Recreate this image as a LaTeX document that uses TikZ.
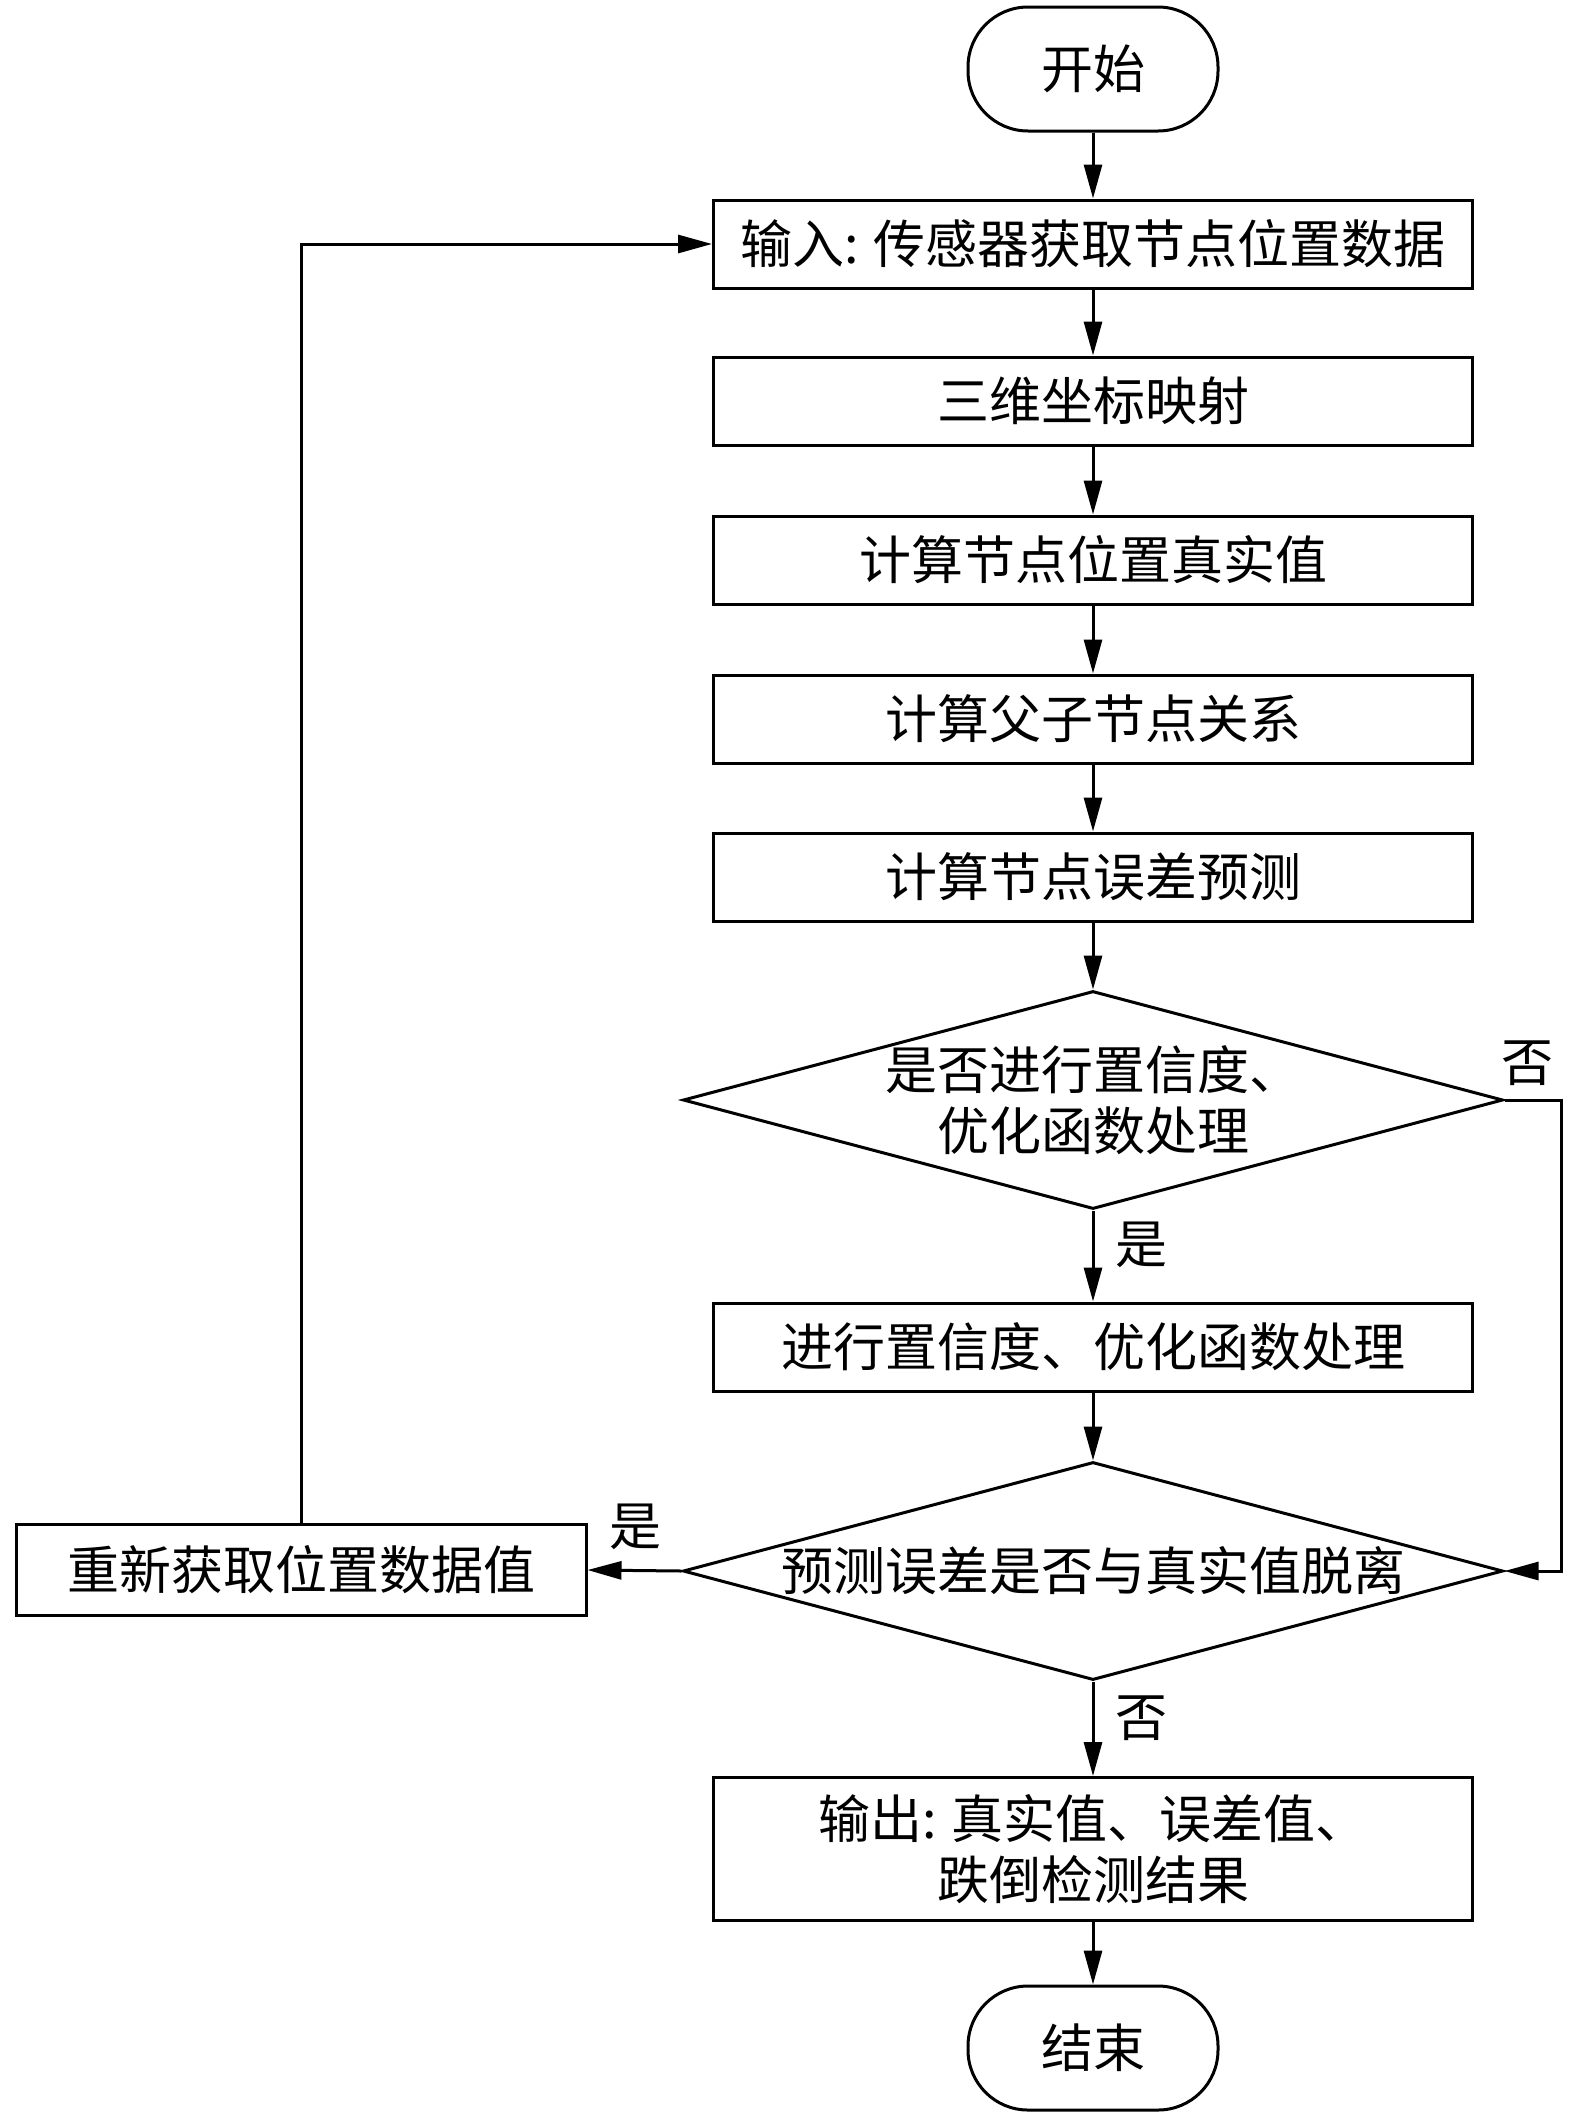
\documentclass[tikz,border=0pt]{standalone}
\usepackage{fontspec}
\setmainfont{Noto Sans CJK SC}
\usetikzlibrary{shapes.geometric,arrows.meta}
\begin{document}
\begin{tikzpicture}[x=1pt,y=-1pt,
  every node/.style={font=\fontsize{52}{61}\selectfont},
  base/.style={draw, line width=3pt, inner sep=0pt},
  proc/.style={base, rectangle, minimum width=759pt, minimum height=88pt, align=center},
  term/.style={base, rectangle, rounded corners=60pt, minimum width=250pt, minimum height=124pt},
  deci/.style={base, diamond, minimum width=820pt, minimum height=218pt},
  arr/.style={line width=3pt, -{Triangle[length=34pt,width=18pt]}},
  lbl/.style={inner sep=0pt}]
\useasboundingbox (0,0) rectangle (1575,2118);
\node[term] (start) at (1093,69) {开始};
\node[proc] (b1) at (1093,244) {输入: 传感器获取节点位置数据};
\node[proc] (b2) at (1093,401) {三维坐标映射};
\node[proc] (b3) at (1093,560) {计算节点位置真实值};
\node[proc] (b4) at (1093,719) {计算父子节点关系};
\node[proc] (b5) at (1093,877) {计算节点误差预测};
\node[deci] (d1) at (1093,1100) {};
\node[align=center] (d1t) at (d1.center) {是否进行置信度、\\优化函数处理};
\node[proc] (b6) at (1093,1347) {进行置信度、优化函数处理};
\node[deci] (d2) at (1093,1571) {};
\node (d2t) at (d2.center) {预测误差是否与真实值脱离};
\node[base, minimum width=570pt, minimum height=91pt] (lb) at (301,1570) {重新获取位置数据值};
\node[proc, minimum height=143pt] (out) at (1093,1849) {输出: 真实值、误差值、\\跌倒检测结果};
\node[term] (end) at (1093,2048) {结束};
\draw[arr] (start) -- (b1);
\draw[arr] (b1) -- (b2);
\draw[arr] (b2) -- (b3);
\draw[arr] (b3) -- (b4);
\draw[arr] (b4) -- (b5);
\draw[arr] (b5) -- (d1.north);
\draw[arr] (d1.south) -- (b6);
\draw[arr] (b6) -- (d2.north);
\draw[arr] (d2.south) -- (out);
\draw[arr] (out) -- (end);
\draw[arr] (d1.east) -- ++(57,0) |- (d2.east);
\draw[arr] (d2.west) -- (lb.east);
\draw[arr] (lb.north) |- (b1.west);
\node[lbl] (n1) at (1527,1063) {否};
\node[lbl] (y1) at (1141,1245) {是};
\node[lbl] (y2) at (635,1527) {是};
\node[lbl] (n2) at (1141,1718) {否};
\end{tikzpicture}
\end{document}
